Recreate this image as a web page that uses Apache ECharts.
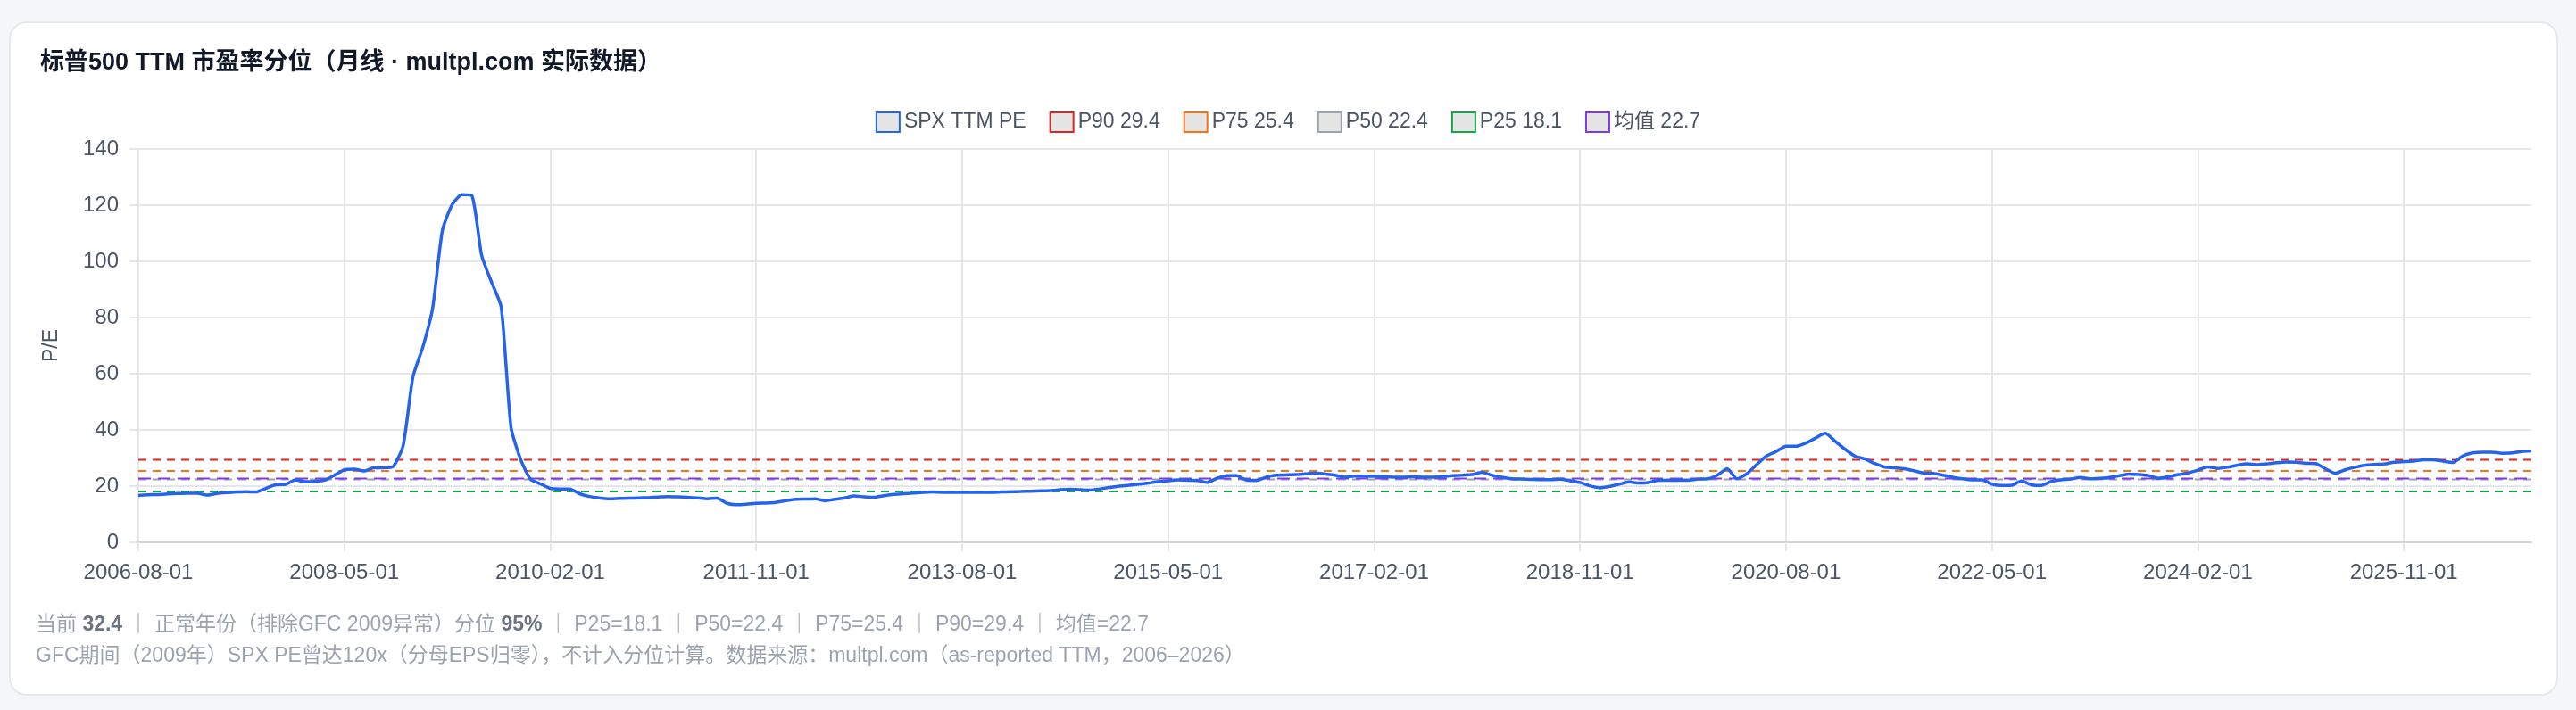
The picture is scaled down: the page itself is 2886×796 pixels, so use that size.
<!DOCTYPE html>
<html><head><meta charset="utf-8">
<script src="https://cdn.jsdelivr.net/npm/echarts@6/dist/echarts.min.js"></script>
<style>
html,body{margin:0;padding:0;background:#f5f6f8;width:2886px;height:796px;overflow:hidden;font-family:"Noto Sans CJK SC","Noto Sans",sans-serif}
#card{position:absolute;left:10px;top:24px;width:2852px;height:752px;background:#fff;border:2px solid #e6e8eb;border-radius:20px}
#c{position:absolute;left:0;top:0;width:2886px;height:796px}
</style></head><body>
<div id="card"></div><div id="c"></div>
<script>
const startYear = 2006, startMonth = 8;
const peValues = [
16.7,16.9,17.0,17.2,17.4,17.5,17.5,16.8,17.4,17.7,17.9,18.0,17.9,19.2,20.5,20.6,22.2,21.6,21.7,22.1,
23.9,25.8,26.0,25.4,26.5,26.5,27.0,34.4,58.9,69.4,83.2,111.0,120.2,123.7,123.4,102.2,92.7,83.7,40.9,29.3,
22.4,20.8,19.2,19.0,19.0,17.3,16.3,15.8,15.5,15.6,15.7,15.8,15.9,16.1,16.3,16.2,16.0,15.8,15.5,15.7,
13.9,13.4,13.6,13.9,14.0,14.2,14.8,15.3,15.4,15.5,14.8,15.3,15.8,16.5,16.2,16.0,16.6,17.1,17.3,17.5,
17.8,17.9,17.8,17.8,17.8,17.8,17.8,17.8,17.9,18.0,18.1,18.2,18.3,18.4,18.7,18.9,18.7,18.6,19.0,19.5,
20.0,20.3,20.7,21.1,21.6,21.9,22.2,22.1,22.0,21.3,22.8,23.7,23.7,22.1,22.0,23.2,23.9,24.0,24.1,24.4,
24.7,24.3,23.9,23.2,23.6,23.5,23.5,23.4,23.2,23.2,23.3,23.2,23.2,23.4,23.7,23.9,24.1,24.9,23.9,23.2,
22.6,22.5,22.4,22.3,22.3,22.5,21.9,21.3,20.1,19.4,19.9,20.7,21.5,21.1,21.3,22.1,22.1,22.1,22.1,22.5,
22.6,23.9,26.2,22.6,24.4,27.6,30.7,32.3,34.2,34.2,35.3,37.1,38.8,36.0,33.2,30.7,29.7,28.1,26.8,26.5,
26.2,25.5,24.7,24.5,23.9,23.2,22.6,22.2,22.2,20.7,20.2,20.3,21.8,20.5,20.2,21.6,22.2,22.5,23.1,22.6,
22.8,23.1,23.7,24.3,24.1,23.7,22.8,23.4,24.1,24.7,25.7,26.8,26.3,26.7,27.4,27.9,27.6,27.9,28.3,28.6,
28.5,28.1,28.0,26.2,24.6,25.8,26.7,27.4,27.7,27.9,28.5,28.7,28.9,29.4,29.4,28.9,28.4,30.7,31.8,32.1,
32.1,31.7,31.8,32.3,32.5
];
const refNames = ['P90 29.4','P75 25.4','P50 22.4','P25 18.1','均值 22.7'];
const refValues = [29.4,25.4,22.4,18.1,22.7];
const refColors = ['#dc2626','#f97316','#9ca3af','#16a34a','#7c3aed'];
const yTicks = [0,20,40,60,80,100,120,140];

const dates = peValues.map((v,i)=>{const m=startMonth-1+i;const y=startYear+Math.floor(m/12);const mm=String(m%12+1).padStart(2,'0');return y+'-'+mm+'-01';});
const F = '"Liberation Sans","Noto Sans CJK SC",sans-serif';
const chart = echarts.init(document.getElementById('c'));
const series = [{
  name:'SPX TTM PE', type:'line', data:peValues, symbol:'none', smooth:0.2,
  lineStyle:{color:'#2563eb',width:3.5}, itemStyle:{color:'#e5e5e5',borderColor:'#2563eb',borderWidth:3},z:5
}];
refNames.forEach((n,k)=>{
  series.push({name:n,type:'line',data:dates.map(()=>refValues[k]),symbol:'none',silent:true,
    lineStyle:{color:refColors[k],width:2,type:k===4?[14,8]:[9,7]},
    itemStyle:{color:'#e5e5e5',borderColor:refColors[k],borderWidth:2.5,borderType:[6,4]},z:k===4?3:2});
});
chart.setOption({
  animation:false,
  title:{text:'标普500 TTM 市盈率分位（月线 · multpl.com 实际数据）',left:40,top:52,
    textStyle:{fontSize:27,fontWeight:'bold',color:'#111827',fontFamily:F}},
  legend:{top:120,left:'center',itemWidth:26,itemHeight:22,itemGap:26,
    textStyle:{fontSize:23,color:'#4b5563',fontFamily:F},
    data:['SPX TTM PE'].concat(refNames).map(n=>({name:n,icon:'rect'}))},
  grid:{left:155,right:50,top:167,bottom:188},
  xAxis:{type:'category',data:dates,boundaryGap:false,
    axisLine:{lineStyle:{color:'#d1d5db',width:2}},axisTick:{show:true,interval:20,length:10,lineStyle:{color:'#e5e7eb',width:2}},
    axisLabel:{interval:20,fontSize:24,color:'#4b5563',margin:22,fontFamily:F},
    splitLine:{show:true,interval:20,lineStyle:{color:'#e5e7eb',width:2}}},
  yAxis:{type:'value',min:0,max:140,interval:20,name:'P/E',nameLocation:'middle',nameGap:86,
    nameTextStyle:{fontSize:23,color:'#4b5563',fontFamily:F},
    axisLabel:{fontSize:24,color:'#4b5563',margin:22,fontFamily:F,formatter:v=>yTicks.includes(v)?String(v):''},
    axisLine:{show:false},axisTick:{show:true,length:10,lineStyle:{color:'#e5e7eb',width:2}},
    splitLine:{lineStyle:{color:'#e5e7eb',width:2}}},
  series:series,
  graphic:[
    {type:'text',left:40,top:689,style:{text:'当前 {b|32.4} ｜ 正常年份（排除GFC 2009异常）分位 {b|95%} ｜ P25=18.1 ｜ P50=22.4 ｜ P75=25.4 ｜ P90=29.4 ｜ 均值=22.7',
      fontSize:23,fill:'#9ca3af',fontFamily:F,rich:{b:{fontSize:23,fontWeight:'bold',fill:'#6b7280',fontFamily:F}}}},
    {type:'text',left:40,top:724,style:{text:'GFC期间（2009年）SPX PE曾达120x（分母EPS归零），不计入分位计算。数据来源：multpl.com（as-reported TTM，2006–2026）',
      fontSize:23,fill:'#9ca3af',fontFamily:F}}
  ]
});
</script></body></html>
